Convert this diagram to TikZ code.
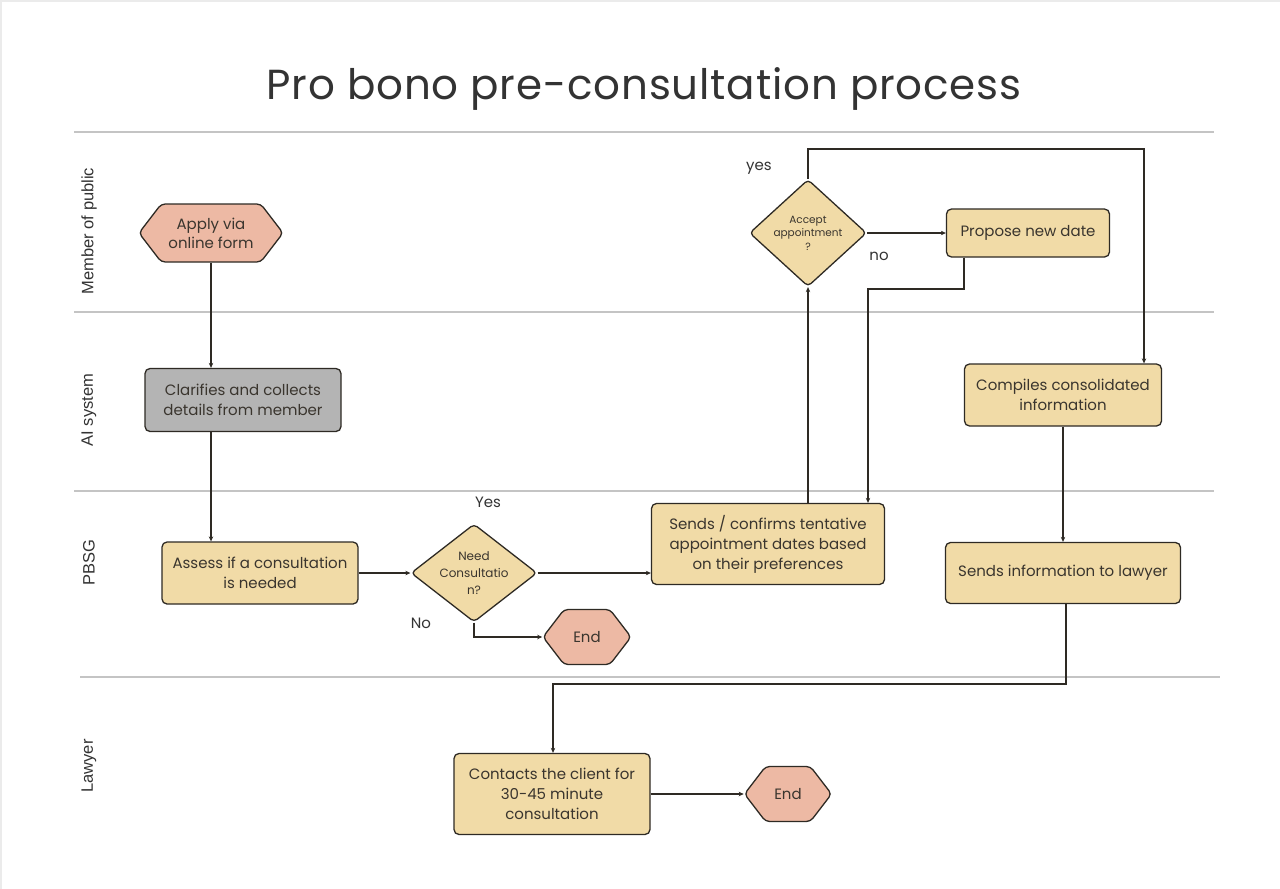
\documentclass[tikz,border=0pt]{standalone}
\usepackage{fontspec}
\setmainfont{Poppins}
\newfontfamily\lanefont{Liberation Sans}
\newfontfamily\titlefont[LetterSpace=2]{Poppins}
\usetikzlibrary{shapes.geometric,shapes.symbols,arrows.meta}
\definecolor{boxtan}{HTML}{F1DBA7}
\definecolor{boxsalmon}{HTML}{EDB9A4}
\definecolor{boxgray}{HTML}{B4B4B4}
\definecolor{edgecol}{HTML}{2E2A24}
\definecolor{lanegray}{HTML}{C4C4C4}
\definecolor{txtcol}{HTML}{3A352E}
\definecolor{titlecol}{HTML}{333333}
\tikzset{
  proc/.style={draw=edgecol, line width=1.3pt, rounded corners=5pt, fill=boxtan,
    align=center, font=\fontsize{15}{20}\selectfont, text=txtcol, inner sep=0pt},
  term/.style={signal, signal to=west and east, signal pointer angle=105,
    draw=edgecol, line width=1.3pt, rounded corners=4pt, fill=boxsalmon,
    align=center, font=\fontsize{15}{19}\selectfont, text=txtcol, inner sep=0pt},
  decis/.style={diamond, aspect=1.3, draw=edgecol, line width=1.3pt, rounded corners=4pt,
    fill=boxtan, align=center, text=txtcol, inner sep=0pt},
  conn/.style={draw=edgecol, line width=1.2pt, -{Stealth[length=5pt,width=4.5pt]}},
  lane/.style={lanegray, line width=1.2pt},
  lanelabel/.style={rotate=90, font=\lanefont\fontsize{16.5}{19}\selectfont, text=titlecol},
  lbl/.style={font=\fontsize{15}{18}\selectfont, text=titlecol, inner sep=0pt}
}
\begin{document}
\begin{tikzpicture}[x=1pt,y=-1pt]
\useasboundingbox (0,0) rectangle (1280,889);
\fill[white] (0,0) rectangle (1280,889);
\draw[color=black!8, line width=2pt] (1,889) -- (1,1) -- (1280,1);

% title
\node[font=\titlefont\fontsize{42}{50}\selectfont, text=titlecol] (title) at (644,89) {Pro bono pre-consultation process};

% lanes
\draw[lane] (74,132) -- (1214,132);
\draw[lane] (74,312) -- (1214,312);
\draw[lane] (74,491) -- (1214,491);
\draw[lane] (80,677) -- (1220,677);
\node[lanelabel] (l1) at (89,231) {Member of public};
\node[lanelabel] (l2) at (89,410) {AI system};
\node[lanelabel] (l3) at (89,563) {PBSG};
\node[lanelabel] (l4) at (89,766) {Lawyer};

% nodes
\node[term, minimum width=144, minimum height=58] (apply) at (211,233) {Apply via\\online form};
\node[proc, fill=boxgray, minimum width=196, minimum height=63] (clar) at (243,400) {Clarifies and collects\\details from member};
\node[proc, minimum width=196, minimum height=62] (assess) at (260,573) {Assess if a consultation\\is needed};
\node[decis, minimum width=126, minimum height=98, font=\fontsize{12}{17}\selectfont] (need) at (474,573) {Need\\Consultatio\\n?};
\node[term, minimum width=88, minimum height=55] (end1) at (587,637) {End};
\node[proc, minimum width=233, minimum height=81] (sends) at (768,544) {Sends / confirms tentative\\appointment dates based\\on their preferences};
\node[decis, aspect=1, minimum width=117, minimum height=107, font=\fontsize{10.5}{13.5}\selectfont] (accept) at (808,233) {Accept\\appointment\\?};
\node[proc, minimum width=163, minimum height=48] (propose) at (1028,233) {Propose new date};
\node[proc, minimum width=197, minimum height=62] (compiles) at (1063,395) {Compiles consolidated\\information};
\node[proc, minimum width=235, minimum height=61] (sendlaw) at (1063,573) {Sends information to lawyer};
\node[proc, minimum width=196, minimum height=81] (contacts) at (552,794) {Contacts the client for\\30-45 minute\\consultation};
\node[term, minimum width=87, minimum height=55] (end2) at (788,794) {End};

% labels
\node[lbl] (yesA) at (488,502) {Yes};
\node[lbl] (noA) at (421,623) {No};
\node[lbl] (yesB) at (759,168) {yes};
\node[lbl] (noB) at (879,256) {no};

% connectors
\coordinate (yesturn) at (1144,149);
\coordinate (noturn) at (964,289);
\coordinate (nodown) at (868,289);
\coordinate (lawturn) at (1066,684);
\coordinate (lawdown) at (553,684);
\draw[conn] (apply.south) -- (apply.south |- clar.north);
\draw[conn] (apply.south |- clar.south) -- (apply.south |- assess.north);
\draw[conn] (assess.east) -- (need.west);
\draw[conn] (need.east) -- (need.east -| sends.west);
\draw[conn] (need.south) |- (end1.west);
\draw[conn] (accept.south |- sends.north) -- (accept.south);
\draw[conn] (accept.north) |- (yesturn) -- (yesturn |- compiles.north);
\draw[conn] (accept.east) -- (propose.west);
\draw[conn] (noturn |- propose.south) -- (noturn) -- (nodown) -- (nodown |- sends.north);
\draw[conn] (compiles.south) -- (sendlaw.north);
\draw[conn] (lawturn |- sendlaw.south) -- (lawturn) -- (lawdown) -- (lawdown |- contacts.north);
\draw[conn] (contacts.east) -- (end2.west);
\end{tikzpicture}
\end{document}
